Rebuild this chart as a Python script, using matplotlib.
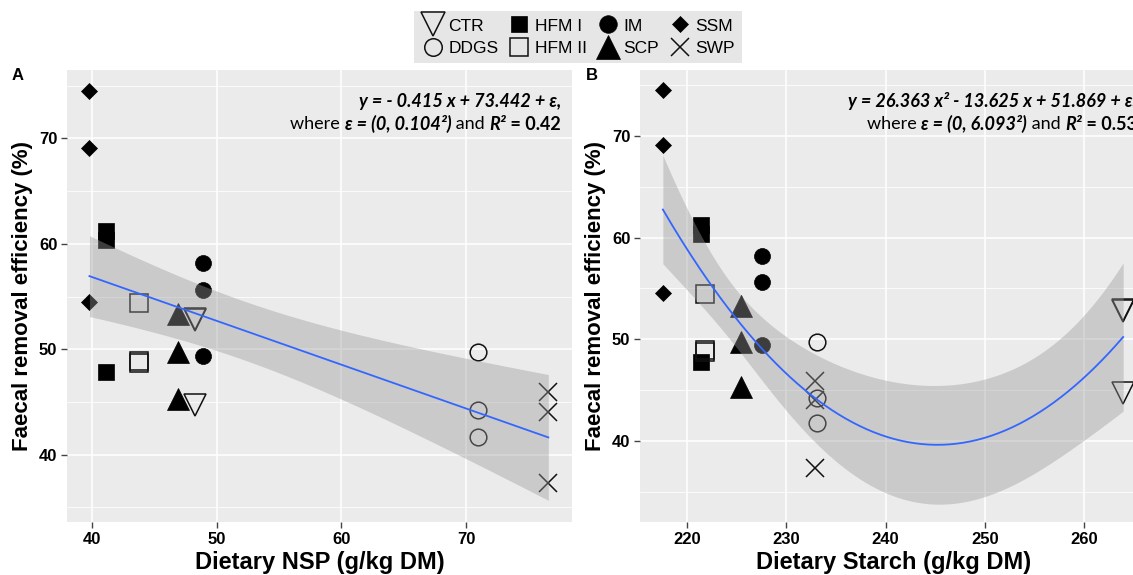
import numpy as np
import matplotlib
matplotlib.use("Agg")
import matplotlib.pyplot as plt
from matplotlib.lines import Line2D

# ---------------- data ----------------
diets = ["CTR", "DDGS", "HFM I", "HFM II", "IM", "SCP", "SSM", "SWP"]

# Panel A : dietary NSP (g/kg DM)
nsp = {
    "CTR":    [48.3, 48.3, 48.3],
    "DDGS":   [71.0, 71.0, 71.0],
    "HFM I":  [41.1, 41.1, 41.1],
    "HFM II": [43.8, 43.8, 43.8],
    "IM":     [48.9, 48.9, 48.9],
    "SCP":    [46.9, 46.9, 46.9],
    "SSM":    [39.8, 39.8, 39.8],
    "SWP":    [76.6, 76.6, 76.6],
}
# Panel B : dietary starch (g/kg DM)
starch = {
    "CTR":    [263.9, 263.9, 263.9],
    "DDGS":   [233.1, 233.1, 233.1],
    "HFM I":  [221.4, 221.4, 221.4],
    "HFM II": [221.8, 221.8, 221.8],
    "IM":     [227.6, 227.6, 227.6],
    "SCP":    [225.5, 225.5, 225.5],
    "SSM":    [217.6, 217.6, 217.6],
    "SWP":    [232.9, 232.9, 232.9],
}
# Faecal removal efficiency (%)
fre = {
    "CTR":    [52.8, 52.9, 44.7],
    "DDGS":   [49.7, 44.2, 41.7],
    "HFM I":  [61.2, 60.4, 47.8],
    "HFM II": [54.4, 48.9, 48.7],
    "IM":     [58.2, 55.6, 49.4],
    "SCP":    [53.3, 49.7, 45.3],
    "SSM":    [74.5, 69.1, 54.5],
    "SWP":    [45.9, 44.0, 37.3],
}

eq_a_1 = "y = - 0.415 x + 73.442 + ε,"
eq_a_2 = [("where ", "normal", "normal"), ("ε = (0, 0.104²)", "bold", "italic"),
          (" and ", "normal", "normal"), ("R²", "bold", "italic"), (" = 0.42", "bold", "normal")]
eq_b_1 = "y = 26.363 x² - 13.625 x + 51.869 + ε,"
eq_b_2 = [("where ", "normal", "normal"), ("ε = (0, 6.093²)", "bold", "italic"),
          (" and ", "normal", "normal"), ("R²", "bold", "italic"), (" = 0.53", "bold", "normal")]

# ---------------- styles ----------------
mstyle = {
    "CTR":    dict(marker="v", mfc="none", mec="#111111", ms=16, mew=1.1),
    "DDGS":   dict(marker="o", mfc="none", mec="#111111", ms=12, mew=1.1),
    "HFM I":  dict(marker="s", mfc="black", mec="black", ms=12.2, mew=0.5),
    "HFM II": dict(marker="s", mfc="none", mec="#111111", ms=12.5, mew=1.1),
    "IM":     dict(marker="o", mfc="black", mec="black", ms=11.5, mew=0.5),
    "SCP":    dict(marker="^", mfc="black", mec="black", ms=16, mew=0.5),
    "SSM":    dict(marker="D", mfc="black", mec="black", ms=7.8, mew=0.5),
    "SWP":    dict(marker="x", mfc="none", mec="#111111", ms=13, mew=1.1),
}

W, H = 1133, 575
fig = plt.figure(figsize=(W / 100, H / 100), dpi=100)
fig.patch.set_facecolor("white")

TICKFONT = dict(family=["Liberation Sans", "DejaVu Sans"], weight="bold", size=12)
XLABFONT = dict(family=["Liberation Sans", "DejaVu Sans"], weight="bold", size=17)
YLABFONT = dict(family=["Liberation Sans", "DejaVu Sans"], weight="bold", size=16)
ANNFAM = ["Lato", "Open Sans", "DejaVu Sans"]


def px_axes(l, r, t, b):
    return fig.add_axes([l / W, 1 - b / H, (r - l) / W, (b - t) / H])


def fit_band(x, y, deg, xs, tval):
    xm = x.mean()
    X = np.vander(x - xm, deg + 1)
    beta, *_ = np.linalg.lstsq(X, y, rcond=None)
    resid = y - X @ beta
    n, p = X.shape
    s2 = (resid ** 2).sum() / (n - p)
    cov = s2 * np.linalg.inv(X.T @ X)
    Xs = np.vander(xs - xm, deg + 1)
    yh = Xs @ beta
    se = np.sqrt(np.einsum("ij,jk,ik->i", Xs, cov, Xs))
    return yh, yh - tval * se, yh + tval * se


def style_axes(ax, xlim, ylim, xticks, yticks, xlabel):
    ax.set_facecolor("#ebebeb")
    ax.set_xlim(*xlim)
    ax.set_ylim(*ylim)
    ax.set_xticks(xticks)
    ax.set_yticks(yticks)
    ax.set_yticks([v + 5 for v in [30] + list(yticks)], minor=True)
    ax.grid(which="major", color="white", lw=1.1)
    ax.grid(which="minor", axis="y", color="white", lw=0.55)
    ax.set_axisbelow(True)
    for s in ax.spines.values():
        s.set_visible(False)
    ax.tick_params(which="major", length=4, width=1, color="#444444", pad=3)
    ax.tick_params(which="minor", length=0)
    for lab in ax.get_xticklabels() + ax.get_yticklabels():
        lab.set_fontproperties(matplotlib.font_manager.FontProperties(**TICKFONT))
    ax.set_xlabel(xlabel, fontdict=XLABFONT, labelpad=3)
    ax.set_ylabel("Faecal removal efficiency (%)", fontdict=YLABFONT, labelpad=4)


def draw_panel(ax, xdata, deg, tval):
    allx, ally = [], []
    for d in diets:
        ax.plot(xdata[d], fre[d], ls="none", zorder=3, **mstyle[d])
        allx += xdata[d]
        ally += fre[d]
    allx = np.array(allx)
    ally = np.array(ally)
    xs = np.linspace(allx.min(), allx.max(), 200)
    yh, lo, hi = fit_band(allx, ally, deg, xs, tval)
    ax.fill_between(xs, lo, hi, color="#999999", alpha=0.4, lw=0, zorder=4)
    ax.plot(xs, yh, color="#3366FF", lw=1.3, zorder=5)


axA = px_axes(67, 572, 70, 522)
style_axes(axA, (38.0, 78.5), (33.6, 76.5), [40, 50, 60, 70], [40, 50, 60, 70],
           "Dietary NSP (g/kg DM)")
draw_panel(axA, nsp, 1, 2.074)

axB = px_axes(640, 1147, 70, 522)
style_axes(axB, (215.3, 266.3), (32.0, 76.5), [220, 230, 240, 250, 260], [40, 50, 60, 70],
           "Dietary Starch (g/kg DM)")
draw_panel(axB, starch, 2, 2.080)

# panel letters
fig.text(12 / W, 1 - 76 / H, "A", fontsize=12, fontweight="bold", family="Liberation Sans", va="center")
fig.text(586 / W, 1 - 76 / H, "B", fontsize=12, fontweight="bold", family="Liberation Sans", va="center")

# ---------------- rich annotation text ----------------
renderer = fig.canvas.get_renderer()
ANNSIZE = 13


def rich_line(x_right, y, pieces):
    texts, widths = [], []
    for s, w, st in pieces:
        t = fig.text(0, 1 - y / H, s, fontsize=ANNSIZE, fontweight=w, fontstyle=st,
                     family=ANNFAM, va="center", ha="left", zorder=10)
        widths.append(t.get_window_extent(renderer).width)
        texts.append(t)
    x = x_right - sum(widths)
    for t, wd in zip(texts, widths):
        t.set_x(x / W)
        x += wd


rich_line(561, 101, [(eq_a_1, "bold", "italic")])
rich_line(561, 124, eq_a_2)
rich_line(1137, 101, [(eq_b_1, "bold", "italic")])
rich_line(1137, 124, eq_b_2)

# ---------------- legend ----------------
leg_scale = {"CTR": 1.05, "DDGS": 1.05, "HFM I": 0.98, "HFM II": 0.98,
             "IM": 1.1, "SCP": 1.05, "SSM": 1.0, "SWP": 0.98}
handles = []
for d in diets:
    st = dict(mstyle[d])
    st["ms"] = st["ms"] * leg_scale[d]
    handles.append(Line2D([], [], ls="none", **st))
leg = fig.legend(handles, diets, ncol=4, loc="center", bbox_to_anchor=(578 / W, 1 - 37 / H),
                 frameon=True, fancybox=False, facecolor="#e6e6e6", edgecolor="none",
                 prop=dict(family="Liberation Sans", size=12.5), handlelength=1.3,
                 handletextpad=0.25, columnspacing=0.55, labelspacing=0.4, borderpad=0.42,
                 borderaxespad=0)
leg.get_frame().set_alpha(1)

fig.savefig("out.png", dpi=100, facecolor="white")
